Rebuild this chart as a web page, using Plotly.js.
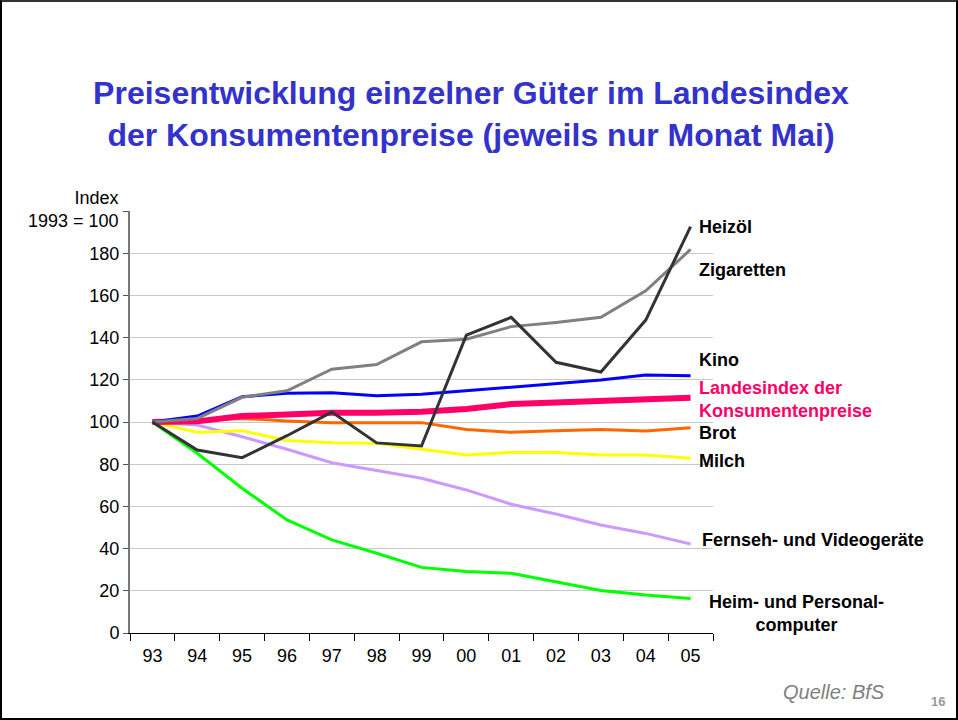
<!DOCTYPE html>
<html>
<head>
<meta charset="utf-8">
<script src="https://cdn.plot.ly/plotly-3.0.1.min.js"></script>
<style>
  html, body { margin: 0; padding: 0; background: #fff; }
  #wrap { position: relative; width: 958px; height: 720px; overflow: hidden; }
  #chart { position: absolute; left: 0; top: 0; width: 958px; height: 720px; }
  #frame { position: absolute; left: 0; top: 0; width: 958px; height: 720px; box-sizing: border-box;
           border-left: 2px solid #000; border-right: 2px solid #000; border-bottom: 2px solid #000;
           border-top: 2px solid #333; pointer-events: none; }
</style>
</head>
<body>
<div id="wrap"><div id="chart"></div><div id="frame"></div></div>
<script>
const years = ["93","94","95","96","97","98","99","00","01","02","03","04","05"];

const heizoel      = [100, 86.7, 83.1, 93.5, 104.7, 90.1, 88.6, 141.2, 149.6, 128.3, 123.7, 148.3, 192.6];
const zigaretten   = [100, 101.7, 111.7, 114.8, 125.0, 127.2, 138.0, 139.2, 145.2, 147.2, 149.6, 162.2, 181.8];
const kino         = [100, 102.8, 112.0, 113.6, 113.9, 112.5, 113.1, 114.8, 116.4, 117.9, 119.9, 122.3, 121.9];
const landesindex  = [100, 100.3, 102.8, 103.6, 104.4, 104.4, 104.9, 106.2, 108.5, 109.3, 110.1, 110.4, 111.5];
const brot         = [100, 101.0, 101.7, 100.5, 99.7, 99.7, 99.7, 96.5, 95.1, 95.9, 96.5, 95.7, 97.3];
const milch        = [100, 95.1, 95.9, 91.2, 90.2, 89.9, 87.1, 84.4, 85.6, 85.6, 84.4, 84.4, 82.8];
const fernseh      = [100, 98.6, 93.0, 87.1, 80.7, 76.9, 73.3, 67.8, 61.0, 56.4, 51.2, 47.2, 42.2];
const computer     = [100, 85.2, 68.6, 53.6, 44.1, 37.8, 31.1, 29.1, 28.3, 24.3, 20.1, 18.0, 16.4];

const yTickVals = [0, 20, 40, 60, 80, 100, 120, 140, 160, 180, 200];
const yTickText = ["0", "20", "40", "60", "80", "100", "120", "140", "160", "180", ""];
const yAxisTitleLines = ["Index", "1993 = 100"];

const titleLines = ["Preisentwicklung einzelner Güter im Landesindex", "der Konsumentenpreise (jeweils nur Monat Mai)"];

function tr(y, color, width) {
  return { x: years, y: y, type: 'scatter', mode: 'lines',
           line: { color: color, width: width }, hoverinfo: 'skip', showlegend: false };
}

const data = [
  tr(computer, '#00FF00', 3),
  tr(fernseh, '#CC99FF', 3),
  tr(milch, '#FFFF00', 3),
  tr(brot, '#FF6600', 3),
  tr(landesindex, '#FF0066', 6),
  tr(kino, '#0000FF', 3),
  tr(zigaretten, '#808080', 3),
  tr(heizoel, '#333333', 3)
];

const FONT = 'Liberation Sans, Arial, sans-serif';
const PL = 130, PR = 713, PT = 211, PB = 633;
const lblFont = { family: FONT, size: 18, color: '#000' };
function lbl(text, x, y, opts) {
  return Object.assign({ xref: 'paper', yref: 'paper', x: (x - PL) / (PR - PL), y: (PB - y) / (PB - PT),
    xanchor: 'left', yanchor: 'middle', text: text, showarrow: false, font: lblFont }, opts || {});
}

const annotations = [
  lbl('<b>Heizöl</b>', 697, 227),
  lbl('<b>Zigaretten</b>', 697, 270),
  lbl('<b>Kino</b>', 697, 360),
  lbl('<b>Landesindex der<br>Konsumentenpreise</b>', 697, 399,
      { font: Object.assign({}, lblFont, { color: '#FF0066' }), align: 'left' }),
  lbl('<b>Brot</b>', 697, 433),
  lbl('<b>Milch</b>', 697, 461),
  lbl('<b>Fernseh- und Videogeräte</b>', 700, 540),
  lbl('<b>Heim- und Personal-<br>computer</b>', 796, 613, { xanchor: 'center', align: 'center' }),
  lbl(yAxisTitleLines.join('<br>'), 121, 209, { xanchor: 'right', align: 'right', font: { family: FONT, size: 18, color: '#000' } }),
  lbl('<i>Quelle: BfS</i>', 887, 692, { xanchor: 'right', font: { family: FONT, size: 20, color: '#808080' } }),
  lbl('<b>16</b>', 947, 701, { xanchor: 'right', font: { family: FONT, size: 13, color: '#999' } })
];

const layout = {
  width: 958, height: 720,
  margin: { l: PL, r: 958 - PR, t: PT, b: 720 - PB },
  paper_bgcolor: '#fff', plot_bgcolor: '#fff',
  title: { text: '<b>' + titleLines.join('<br>') + '</b>', x: 471 / 958, xanchor: 'center',
           y: 1 - 104 / 720, yanchor: 'middle',
           font: { family: FONT, size: 32, color: '#3333CC' } },
  xaxis: {
    type: 'category', range: [-0.5, 12.5], tickson: 'boundaries',
    ticks: 'outside', ticklen: 7, tickcolor: '#000', tickwidth: 1, ticklabelstandoff: 6,
    showline: true, linecolor: '#000', linewidth: 1, showgrid: false, zeroline: false,
    tickfont: { family: FONT, size: 18, color: '#000' }
  },
  yaxis: {
    range: [0, 200], tickvals: yTickVals, ticktext: yTickText,
    ticks: 'outside', ticklen: 5, tickcolor: '#555', tickwidth: 1,
    showline: true, linecolor: '#777', linewidth: 2,
    showgrid: true, gridcolor: '#C8C8C8', gridwidth: 1, zeroline: false,
    tickfont: { family: FONT, size: 18, color: '#000' }
  },
  annotations: annotations,
  showlegend: false
};

Plotly.newPlot('chart', data, layout, { staticPlot: true, displayModeBar: false });
</script>
</body>
</html>
